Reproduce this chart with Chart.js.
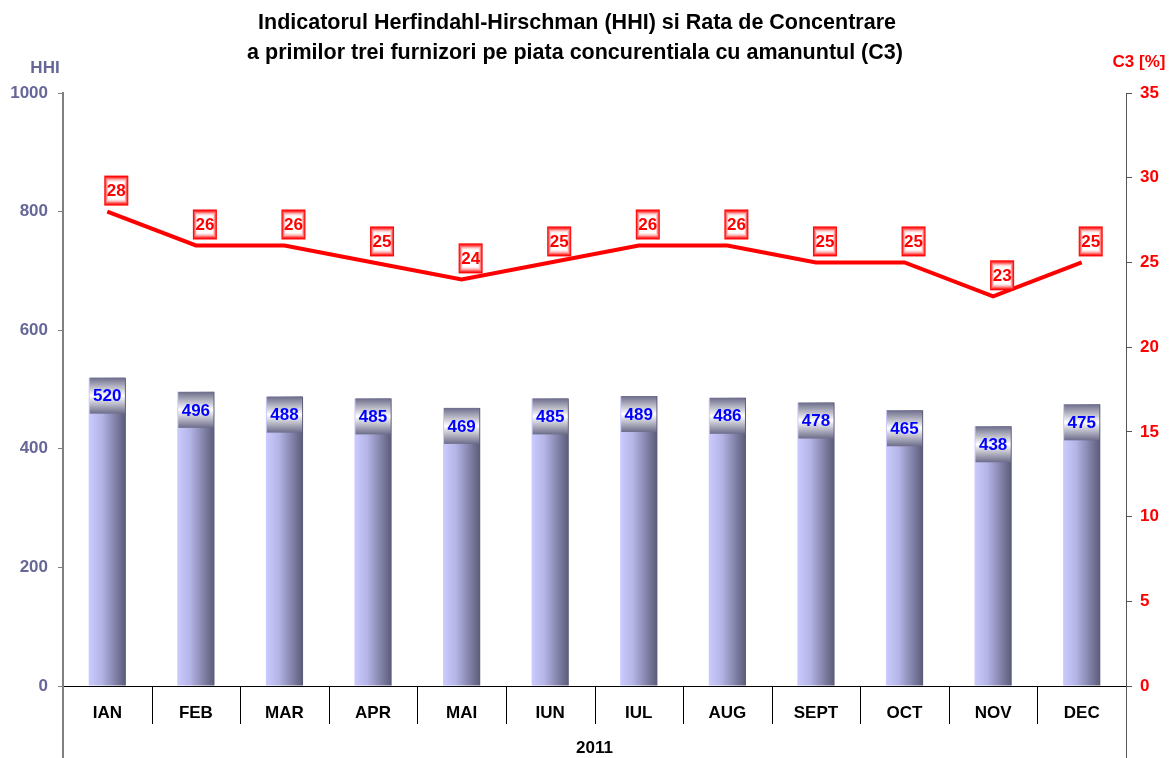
<!DOCTYPE html>
<html>
<head>
<meta charset="utf-8">
<script src="https://cdn.jsdelivr.net/npm/chart.js@4/dist/chart.umd.min.js"></script>
<style>
  html, body { margin: 0; padding: 0; background: #fff; }
  #wrap { width: 1169px; height: 758px; }
</style>
</head>
<body>
<div id="wrap"><canvas id="hhiChart"></canvas></div>
<script>
// date
const months = ['IAN', 'FEB', 'MAR', 'APR', 'MAI', 'IUN', 'IUL', 'AUG', 'SEPT', 'OCT', 'NOV', 'DEC'];
const hhiValues = [520, 496, 488, 485, 469, 485, 489, 486, 478, 465, 438, 475];
const c3Values = [28, 26, 26, 25, 24, 25, 26, 26, 25, 25, 23, 25];
const yearLabel = '2011';
const titleLines = [
    'Indicatorul Herfindahl-Hirschman (HHI) si Rata de Concentrare',
    'a primilor trei furnizori pe piata concurentiala cu amanuntul (C3)'
];

const FONT = '"Liberation Sans", Arial, sans-serif';
const BAR_PCT = 0.42;

function barGradient(context) {
    const chart = context.chart;
    const area = chart.chartArea;
    if (!area) return '#9a9ad0';
    const x = chart.scales.x;
    const center = x.getPixelForValue(context.dataIndex);
    const half = (area.right - area.left) / months.length * BAR_PCT / 2;
    const g = chart.ctx.createLinearGradient(center - half, 0, center + half, 0);
    g.addColorStop(0, '#cbcbff');
    g.addColorStop(0.35, '#b4b4e6');
    g.addColorStop(1, '#5a5a78');
    return g;
}

// cadru rosu estompat pentru etichetele C3
function redFrame(ctx, x0, y0, w, h) {
    const layers = ['#ff0000', '#ff3030', '#ff7070', '#ffb0b0', '#ffe0e0'];
    layers.forEach((c, k) => {
        ctx.fillStyle = c;
        const sx = k * 0.8, sy = k * 1.2;
        ctx.fillRect(x0 + sx, y0 + sy, w - 2 * sx, h - 2 * sy);
    });
    ctx.fillStyle = '#fff';
    ctx.fillRect(x0 + 4, y0 + 6, w - 8, h - 12);
}

// etichete, titluri si linii suplimentare
const extrasPlugin = {
    id: 'extras',
    afterDatasetsDraw(chart) {
        const ctx = chart.ctx;
        const area = chart.chartArea;
        const x = chart.scales.x;
        const yL = chart.scales.y;
        const yR = chart.scales.y1;
        const catW = (area.right - area.left) / months.length;
        const barW = catW * BAR_PCT;

        ctx.save();
        ctx.textAlign = 'center';
        ctx.textBaseline = 'middle';
        ctx.font = 'bold 17px ' + FONT;

        // etichete bare
        hhiValues.forEach((v, i) => {
            const cx = x.getPixelForValue(i);
            const top = yL.getPixelForValue(v);
            const h = 36;
            const g = ctx.createLinearGradient(0, top, 0, top + h);
            g.addColorStop(0, '#6c6c8a');
            g.addColorStop(0.5, '#ffffff');
            g.addColorStop(1, '#6c6c8a');
            ctx.fillStyle = g;
            ctx.fillRect(cx - barW / 2 + 1, top, barW - 2, h);
            ctx.fillStyle = '#0000ff';
            ctx.fillText(String(v), cx, top + h / 2 + 1);
        });

        // etichete C3
        c3Values.forEach((v, i) => {
            const cx = x.getPixelForValue(i) + 9;
            const cy = yR.getPixelForValue(v) - 21;
            const w = 24, h = 30;
            redFrame(ctx, cx - w / 2, cy - h / 2, w, h);
            ctx.fillStyle = '#ff0000';
            ctx.fillText(String(v), cx, cy + 1);
        });

        // separatoare categorii sub axa
        ctx.strokeStyle = '#000';
        ctx.lineWidth = 1;
        for (let i = 1; i < months.length; i++) {
            const bx = Math.round(area.left + catW * i) + 0.5;
            ctx.beginPath();
            ctx.moveTo(bx, area.bottom);
            ctx.lineTo(bx, area.bottom + 38);
            ctx.stroke();
        }
        // prelungire axe
        ctx.strokeStyle = '#808080';
        ctx.lineWidth = 2;
        ctx.beginPath();
        ctx.moveTo(area.left, area.bottom);
        ctx.lineTo(area.left, chart.height);
        ctx.stroke();
        ctx.strokeStyle = '#555';
        ctx.lineWidth = 1;
        ctx.beginPath();
        ctx.moveTo(area.right + 0.5, area.bottom);
        ctx.lineTo(area.right + 0.5, chart.height);
        ctx.stroke();

        // an
        ctx.fillStyle = '#000';
        ctx.fillText(yearLabel, (area.left + area.right) / 2, 748);

        // titluri axe
        ctx.fillStyle = '#666699';
        ctx.fillText('HHI', 45, 68);
        ctx.fillStyle = '#ff0000';
        ctx.fillText('C3 [%]', 1139, 62);

        // titlu
        ctx.fillStyle = '#000';
        ctx.font = 'bold 21.5px ' + FONT;
        ctx.fillText(titleLines[0], 577, 23);
        ctx.fillText(titleLines[1], 575, 53);
        ctx.restore();
    }
};

const chartCtx = document.getElementById('hhiChart').getContext('2d');
const hhiChart = new Chart(chartCtx, {
    data: {
        labels: months,
        datasets: [{
            type: 'line',
            label: 'C3',
            data: c3Values,
            yAxisID: 'y1',
            borderColor: '#ff0000',
            borderWidth: 4,
            pointRadius: 0,
            tension: 0,
            order: 0
        }, {
            type: 'bar',
            label: 'HHI',
            data: hhiValues,
            yAxisID: 'y',
            backgroundColor: barGradient,
            borderWidth: 0,
            categoryPercentage: 1,
            barPercentage: BAR_PCT,
            order: 1
        }]
    },
    options: {
        responsive: true,
        maintainAspectRatio: false,
        animation: false,
        layout: { padding: { top: 93, left: 0, right: 0, bottom: 0 } },
        plugins: {
            legend: { display: false },
            tooltip: { enabled: false },
            title: { display: false }
        },
        scales: {
            x: {
                offset: true,
                grid: { display: false, drawTicks: false },
                border: { display: true, color: '#000', width: 1 },
                ticks: { color: '#000', font: { family: FONT, size: 17, weight: 'bold' }, padding: 17, maxRotation: 0, autoSkip: false },
                afterFit(scale) { scale.height = 72; }
            },
            y: {
                position: 'left',
                min: 0, max: 1000,
                ticks: {
                    stepSize: 200, color: '#666699',
                    font: { family: FONT, size: 17, weight: 'bold' }, padding: 10,
                    callback: (v) => String(v)
                },
                grid: { drawOnChartArea: false, tickLength: 5, color: '#808080' },
                border: { display: true, color: '#808080', width: 2 },
                afterFit(scale) { scale.width = 63; }
            },
            y1: {
                position: 'right',
                min: 0, max: 35,
                ticks: { stepSize: 5, color: '#ff0000', font: { family: FONT, size: 17, weight: 'bold' }, padding: 8 },
                grid: { drawOnChartArea: false, tickLength: 6, color: '#555' },
                border: { display: true, color: '#555', width: 1 },
                afterFit(scale) { scale.width = 43; }
            }
        }
    },
    plugins: [extrasPlugin]
});
</script>
</body>
</html>
